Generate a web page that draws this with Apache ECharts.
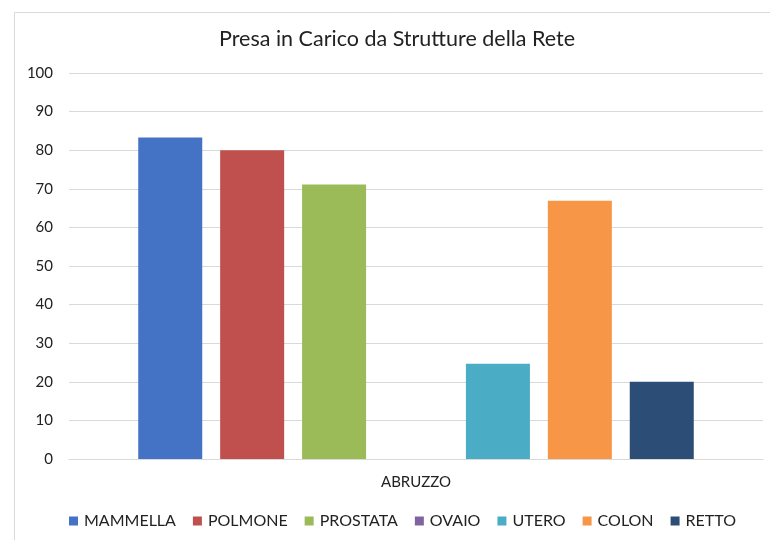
<!DOCTYPE html>
<html>
<head>
<meta charset="utf-8">
<script src="https://cdn.jsdelivr.net/npm/echarts@6/dist/echarts.min.js"></script>
<style>
  html, body { margin: 0; padding: 0; background: #fff; }
  #chart { width: 770px; height: 540px; }
</style>
</head>
<body>
<div id="chart"></div>
<script>
// Percentuale di presa in carico per sede tumorale
const categories = ['ABRUZZO'];
const seriesNames = ['MAMMELLA', 'POLMONE', 'PROSTATA', 'OVAIO', 'UTERO', 'COLON', 'RETTO'];
const seriesValues = [83.3, 80.0, 71.1, 0, 24.7, 66.9, 20.0];
const seriesColors = ['#4472C4', '#C0504D', '#9BBB59', '#8064A2', '#4BACC6', '#F79646', '#2C4D75'];
const yTicks = { min: 0, max: 100, interval: 10 };

const FONT = 'Lato, "Open Sans", sans-serif';

const chart = echarts.init(document.getElementById('chart'), null, { renderer: 'canvas' });

const series = seriesNames.map((name, i) => ({
  name: name,
  type: 'bar',
  data: [seriesValues[i]],
  barWidth: 64,
  barGap: '28%',
  itemStyle: { color: seriesColors[i] }
}));

chart.setOption({
  animation: false,
  backgroundColor: '#ffffff',
  graphic: [{
    type: 'rect',
    left: 12, top: 10,
    shape: { width: 800, height: 600 },
    style: { fill: 'none', stroke: '#d9d9d9', lineWidth: 1 },
    silent: true
  }],
  title: {
    text: 'Presa in Carico da Strutture della Rete',
    left: 219,
    top: 28,
    padding: 0,
    textStyle: { fontFamily: FONT, fontSize: 21.5, fontWeight: 'normal', color: '#222' }
  },
  legend: {
    data: seriesNames,
    bottom: 6,
    left: 64,
    icon: 'rect',
    itemWidth: 9,
    itemHeight: 9,
    itemGap: 17,
    textStyle: { fontFamily: FONT, fontSize: 16, color: '#222', padding: [0, 0, 0, 1] }
  },
  grid: { left: 69, right: 7, top: 73, bottom: 81, containLabel: false },
  xAxis: {
    type: 'category',
    data: categories,
    axisLine: { lineStyle: { color: '#d9d9d9', width: 1 } },
    axisTick: { show: false },
    axisLabel: { fontFamily: FONT, fontSize: 15, color: '#222', margin: 16 }
  },
  yAxis: {
    type: 'value',
    min: yTicks.min,
    max: yTicks.max,
    interval: yTicks.interval,
    axisLine: { show: false },
    axisTick: { show: false },
    splitLine: { lineStyle: { color: '#d9d9d9', width: 1 } },
    axisLabel: { fontFamily: FONT, fontSize: 15, color: '#222', margin: 16 }
  },
  series: series
});
</script>
</body>
</html>
